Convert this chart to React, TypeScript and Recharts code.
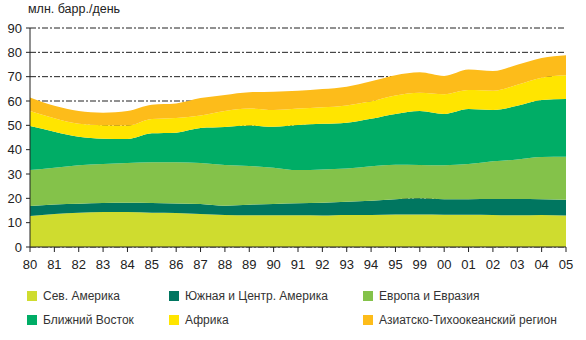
import { AreaChart, Area, XAxis, YAxis, CartesianGrid } from "recharts";

const FONT = '"Liberation Sans", Arial, Helvetica, sans-serif';

// labels exactly as printed on the source chart (it jumps 95 -> 99)
const YEARS = ["80", "81", "82", "83", "84", "85", "86", "87", "88", "89", "90", "91", "92", "93", "94", "95", "99", "00", "01", "02", "03", "04", "05"];

const NORTH_AMERICA = [12.7, 13.6, 14.1, 14.4, 14.4, 14.1, 14.0, 13.6, 13.2, 13.0, 13.0, 13.0, 12.9, 13.2, 13.2, 13.4, 13.4, 13.3, 13.3, 13.2, 13.0, 13.2, 12.9];
const SOUTH_CENTRAL = [4.2, 3.9, 3.7, 3.7, 3.8, 4.0, 3.9, 4.1, 3.8, 4.4, 4.7, 5.0, 5.3, 5.4, 5.8, 6.2, 6.6, 6.3, 6.3, 6.5, 6.7, 6.4, 6.5];
const EUROPE = [14.7, 15.1, 15.8, 16.0, 16.3, 16.7, 16.9, 16.8, 16.7, 15.9, 14.9, 13.6, 13.7, 13.7, 14.2, 14.2, 13.7, 14.0, 14.5, 15.5, 16.3, 17.4, 17.7];
const MIDDLE_EAST = [18.1, 14.8, 11.7, 10.4, 9.9, 11.9, 12.2, 14.4, 15.6, 16.6, 16.8, 18.5, 18.7, 18.8, 19.5, 20.9, 22.2, 21.1, 22.6, 21.1, 22.0, 23.4, 23.7];
const AFRICA = [6.2, 5.5, 5.3, 5.5, 5.5, 5.9, 6.0, 5.1, 6.6, 7.0, 6.9, 6.8, 6.8, 7.1, 7.2, 7.6, 7.5, 8.1, 7.8, 7.9, 8.7, 9.2, 9.8];
const ASIA_PACIFIC = [5.5, 5.1, 5.3, 5.2, 6.0, 5.9, 6.0, 7.2, 6.6, 6.7, 7.5, 7.3, 7.5, 7.7, 8.2, 8.3, 8.4, 7.5, 8.4, 8.1, 8.2, 8.1, 8.2];

const Y_TICKS = [0, 10, 20, 30, 40, 50, 60, 70, 80, 90];

const SERIES = [
  { key: "na", name: "Сев. Америка", color: "#cfdc2f", values: NORTH_AMERICA },
  { key: "sca", name: "Южная и Центр. Америка", color: "#007660", values: SOUTH_CENTRAL },
  { key: "eu", name: "Европа и Евразия", color: "#84c24a", values: EUROPE },
  { key: "me", name: "Ближний Восток", color: "#00ad66", values: MIDDLE_EAST },
  { key: "af", name: "Африка", color: "#ffe500", values: AFRICA },
  { key: "ap", name: "Азиатско-Тихоокеанский регион", color: "#fdbc1a", values: ASIA_PACIFIC },
];

const data = YEARS.map((year, i) => {
  const row: Record<string, string | number> = { year };
  SERIES.forEach((s) => { row[s.key] = s.values[i]; });
  return row;
});

// legend grid: row 1 = first three, row 2 = last three
const LEGEND_COLS = [27, 169, 363];
const LEGEND_ROWS = [289, 313];

export default function App() {
  return (
    <div style={{ position: "absolute", left: 0, top: 0, width: 586, height: 340, background: "#fff", fontFamily: FONT }}>
      <div style={{ position: "absolute", left: 28, top: 2, fontSize: 12.5, color: "#222" }}>
        млн. барр./день
      </div>

      <AreaChart
        width={586}
        height={275}
        data={data}
        margin={{ top: 28, right: 20, left: 0, bottom: 0 }}
      >
        <CartesianGrid vertical={false} stroke="#222" strokeDasharray="6 2 2 2" />
        <XAxis
          dataKey="year"
          interval={0}
          height={28}
          tickSize={5}
          tickMargin={8}
          stroke="#222"
          tick={{ fill: "#222", fontSize: 13, fontFamily: FONT }}
        />
        <YAxis
          width={30}
          domain={[0, 90]}
          ticks={Y_TICKS}
          tickSize={4}
          tickMargin={4}
          stroke="#222"
          tick={{ fill: "#222", fontSize: 13, fontFamily: FONT }}
        />
        {SERIES.map((s) => (
          <Area
            key={s.key}
            type="monotone"
            dataKey={s.key}
            name={s.name}
            stackId="1"
            stroke="none"
            fill={s.color}
            fillOpacity={1}
            dot={false}
            activeDot={false}
            isAnimationActive={false}
          />
        ))}
      </AreaChart>

      {SERIES.map((s, i) => (
        <div
          key={s.key}
          style={{
            position: "absolute",
            left: LEGEND_COLS[i % 3],
            top: LEGEND_ROWS[Math.floor(i / 3)],
            display: "flex",
            alignItems: "center",
            fontSize: 12,
            color: "#333",
            whiteSpace: "nowrap",
          }}
        >
          <span style={{ width: 10, height: 10, background: s.color, marginRight: 6, display: "inline-block" }} />
          {s.name}
        </div>
      ))}
    </div>
  );
}
